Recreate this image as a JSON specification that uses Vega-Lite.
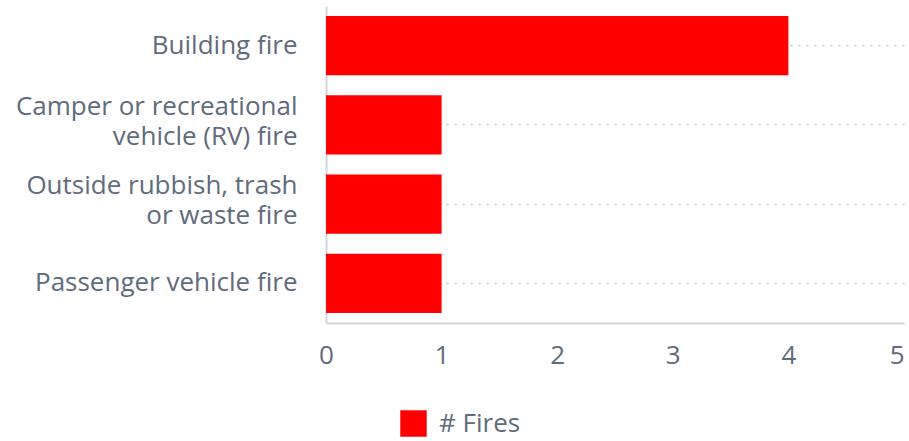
{
  "$schema": "https://vega.github.io/schema/vega-lite/v6.json",
  "width": 578,
  "height": 317,
  "autosize": {"type": "none"},
  "padding": {"left": 326, "top": 6, "right": 5, "bottom": 118},
  "background": "white",
  "data": {
    "values": [
      {"type": "Building fire", "fires": 4, "series": "# Fires"},
      {"type": "Camper or recreational vehicle (RV) fire", "fires": 1, "series": "# Fires"},
      {"type": "Outside rubbish, trash or waste fire", "fires": 1, "series": "# Fires"},
      {"type": "Passenger vehicle fire", "fires": 1, "series": "# Fires"}
    ]
  },
  "mark": {"type": "bar"},
  "encoding": {
    "y": {
      "field": "type",
      "type": "nominal",
      "sort": null,
      "title": null,
      "scale": {"paddingInner": 0.25, "paddingOuter": 0.125},
      "axis": {
        "domain": true,
        "domainColor": "#d3d5db",
        "domainWidth": 2,
        "ticks": false,
        "labelPadding": 29,
        "labelFont": "Open Sans",
        "labelFontSize": 26,
        "labelColor": "#606b7b",
        "labelLimit": 400,
        "labelLineHeight": 30,
        "labelOffset": {"condition": {"test": "datum.label == 'Camper or recreational vehicle (RV) fire' || datum.label == 'Outside rubbish, trash or waste fire'", "value": -18}, "value": 0},
        "labelExpr": "datum.label == 'Camper or recreational vehicle (RV) fire' ? ['Camper or recreational', 'vehicle (RV) fire'] : datum.label == 'Outside rubbish, trash or waste fire' ? ['Outside rubbish, trash', 'or waste fire'] : datum.label",
        "grid": true,
        "bandPosition": 0.5,
        "gridColor": "#c8c8c8",
        "gridDash": [2, 6],
        "gridWidth": 1.5
      }
    },
    "x": {
      "field": "fires",
      "type": "quantitative",
      "title": null,
      "scale": {"domain": [0, 5], "nice": false},
      "axis": {
        "values": [0, 1, 2, 3, 4, 5],
        "grid": false,
        "ticks": false,
        "domain": true,
        "domainColor": "#d3d5db",
        "domainWidth": 2,
        "labelPadding": 19,
        "labelFont": "Open Sans",
        "labelFontSize": 26,
        "labelColor": "#606b7b",
        "labelFlush": false,
        "labelAlign": {"condition": {"test": "datum.value == 5", "value": "right"}, "value": "center"}
      }
    },
    "color": {
      "field": "series",
      "type": "nominal",
      "scale": {"range": ["#ff0000"]},
      "legend": {
        "title": null,
        "orient": "none",
        "legendX": 74,
        "legendY": 404,
        "symbolType": "square",
        "symbolSize": 700,
        "symbolStrokeWidth": 0,
        "labelFont": "Open Sans",
        "labelFontSize": 26,
        "labelColor": "#606b7b",
        "labelOffset": 12
      }
    }
  },
  "config": {"view": {"stroke": null}}
}
